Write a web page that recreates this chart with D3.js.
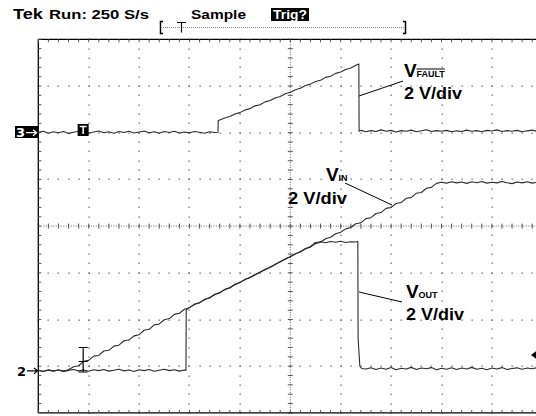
<!DOCTYPE html>
<html>
<head>
<meta charset="utf-8">
<script src="https://cdn.jsdelivr.net/npm/d3@7/dist/d3.min.js"></script>
<style>
  body { margin: 0; background: #fff; }
  svg text { font-family: "Liberation Sans", Arial, sans-serif; }
</style>
</head>
<body>
<script>
// time in s (1 s/div), volts (2 V/div)
let vfault = [
  [0.0,0.02],[0.1,0.06],[0.2,-0.02],[0.3,0.04],[0.4,0.00],[0.5,0.05],[0.6,-0.03],[0.7,0.02],[0.8,0.06],[0.9,0.01],
  [1.0,-0.02],[1.1,0.03],[1.2,0.07],[1.3,0.00],[1.4,0.04],[1.5,-0.02],[1.6,0.05],[1.7,0.01],[1.8,0.06],[1.9,-0.01],
  [2.0,0.03],[2.1,0.07],[2.2,0.00],[2.3,0.04],[2.4,-0.02],[2.5,0.05],[2.6,0.01],[2.7,0.06],[2.8,-0.01],[2.9,0.03],
  [3.0,0.00],[3.1,0.05],[3.2,0.02],[3.3,-0.02],[3.4,0.04],[3.5,0.01],[3.565,0.02],
  [3.57,0.52],[3.6,0.54],[3.7,0.63],[3.8,0.69],[3.9,0.80],[4.0,0.86],[4.1,0.97],[4.2,1.03],[4.3,1.15],[4.4,1.20],
  [4.5,1.32],[4.6,1.38],[4.7,1.49],[4.8,1.55],[4.9,1.67],[5.0,1.73],[5.1,1.84],[5.2,1.90],[5.3,2.02],[5.4,2.08],
  [5.5,2.19],[5.6,2.25],[5.7,2.37],[5.8,2.42],[5.9,2.54],[6.0,2.60],[6.1,2.71],[6.2,2.77],[6.3,2.89],[6.36,2.94],
  [6.365,0.06],[6.4,0.10],[6.5,0.04],[6.6,0.09],[6.7,0.05],[6.8,0.12],[6.9,0.06],[7.0,0.10],[7.1,0.03],[7.2,0.09],
  [7.3,0.06],[7.4,0.11],[7.5,0.04],[7.6,0.08],[7.7,0.13],[7.8,0.05],[7.9,0.09],[8.0,0.06],[8.1,0.10],[8.2,0.04],
  [8.3,0.08],[8.4,0.05],[8.5,0.11],[8.6,0.06],[8.7,0.09],[8.8,0.04],[8.9,0.10],[9.0,0.07],[9.1,0.12],[9.2,0.05],
  [9.3,0.09],[9.4,0.06],[9.5,0.10],[9.6,0.04],[9.7,0.08],[9.8,0.11],[9.9,0.05],[10.0,0.09]
];

let vin = [
  [0.0,0.02],[0.1,-0.03],[0.2,0.03],[0.3,-0.02],[0.4,0.04],[0.5,0.00],[0.57,0.02],
  [0.7,0.18],[0.8,0.22],[0.9,0.41],[1.0,0.45],[1.1,0.63],[1.2,0.66],[1.3,0.85],[1.4,0.88],[1.5,1.06],[1.6,1.10],
  [1.7,1.29],[1.8,1.32],[1.9,1.50],[2.0,1.55],[2.1,1.74],[2.2,1.78],[2.3,1.97],[2.4,2.01],[2.5,2.19],[2.6,2.24],
  [2.7,2.42],[2.8,2.47],[2.9,2.64],[3.0,2.70],[3.1,2.86],[3.2,2.91],[3.3,3.07],[3.4,3.12],[3.5,3.28],[3.6,3.34],
  [3.7,3.49],[3.8,3.55],[3.9,3.71],[4.0,3.77],[4.1,3.92],[4.2,3.99],[4.3,4.13],[4.4,4.21],[4.5,4.35],[4.6,4.43],
  [4.7,4.57],[4.8,4.66],[4.9,4.80],[5.0,4.88],[5.1,5.02],[5.2,5.09],[5.3,5.24],[5.4,5.30],[5.5,5.45],[5.6,5.51],
  [5.7,5.66],[5.8,5.72],[5.9,5.87],[6.0,5.94],[6.1,6.08],[6.2,6.14],[6.3,6.30],[6.4,6.34],[6.5,6.52],[6.6,6.56],
  [6.7,6.74],[6.8,6.78],[6.9,6.96],[7.0,7.00],[7.1,7.17],[7.2,7.21],[7.3,7.39],[7.4,7.42],[7.5,7.61],[7.6,7.64],
  [7.7,7.82],[7.8,7.86],[7.9,8.03],[8.0,8.08],[8.1,8.04],[8.2,8.10],[8.3,8.05],[8.4,8.09],[8.5,8.03],[8.6,8.10],
  [8.7,8.06],[8.8,8.11],[8.9,8.04],[9.0,8.08],[9.1,8.05],[9.2,8.11],[9.3,8.06],[9.4,8.02],[9.5,8.09],[9.6,8.05],
  [9.7,8.10],[9.8,8.04],[9.9,8.08],[10.0,8.06]
];

let vout = [
  [0.0,0.03],[0.1,-0.02],[0.2,0.05],[0.3,0.00],[0.4,0.04],[0.5,-0.03],[0.6,0.02],[0.7,0.06],[0.8,0.00],[0.9,0.04],
  [1.0,-0.02],[1.1,0.05],[1.2,0.01],[1.3,0.06],[1.4,-0.01],[1.5,0.03],[1.6,0.07],[1.7,0.00],[1.8,0.04],[1.9,-0.03],
  [2.0,0.05],[2.1,0.01],[2.2,0.06],[2.3,-0.02],[2.4,0.03],[2.5,0.07],[2.6,0.01],[2.7,0.05],[2.8,-0.01],[2.9,0.04],
  [2.93,0.02],[2.935,2.62],[3.0,2.72],[3.1,2.84],[3.2,2.93],[3.3,3.05],[3.4,3.14],[3.5,3.26],[3.6,3.36],[3.7,3.47],
  [3.8,3.57],[3.9,3.69],[4.0,3.79],[4.1,3.90],[4.2,4.01],[4.3,4.11],[4.4,4.23],[4.5,4.33],[4.6,4.45],[4.7,4.55],
  [4.8,4.68],[4.9,4.78],[5.0,4.90],[5.1,5.00],[5.2,5.11],[5.3,5.22],[5.4,5.33],[5.5,5.50],[5.6,5.53],[5.7,5.49],
  [5.8,5.54],[5.9,5.51],[6.0,5.55],[6.1,5.50],[6.2,5.53],[6.3,5.52],[6.34,5.54],
  [6.345,1.40],[6.38,0.20],[6.42,0.10],[6.5,0.08],[6.6,0.13],[6.7,0.06],[6.8,0.12],[6.9,0.07],[7.0,0.14],[7.1,0.05],
  [7.2,0.11],[7.3,0.08],[7.4,0.15],[7.5,0.06],[7.6,0.12],[7.7,0.09],[7.8,0.14],[7.9,0.05],[8.0,0.11],[8.1,0.07],
  [8.2,0.13],[8.3,0.06],[8.4,0.12],[8.5,0.08],[8.6,0.15],[8.7,0.07],[8.8,0.11],[8.9,0.05],[9.0,0.12],[9.1,0.08],
  [9.2,0.14],[9.3,0.06],[9.4,0.10],[9.5,0.13],[9.6,0.07],[9.7,0.12],[9.8,0.09],[9.9,0.14],[10.0,0.08]
];

// ground levels in divisions from centre
let grounds = { ch3: 2, ch2: -3.1 };
let trigTime = 0.89;

let W = 536, H = 416;
let x0 = 38.3, divX = 50.4, y0 = 39.3, divY = 46.7;

let svg = d3.select("body").append("svg")
  .attr("width", W).attr("height", H);

let gx = d3.scaleLinear().domain([0, 10]).range([x0, x0 + 10 * divX]);
let gy = d3.scaleLinear().domain([-4, 4]).range([y0 + 8 * divY, y0]);

function chScale(g) {
  // 2 V/div
  return d3.scaleLinear().domain([(-4 - g) * 2, (4 - g) * 2]).range([gy(-4), gy(4)]);
}
let y3 = chScale(grounds.ch3), y2 = chScale(grounds.ch2);

let minorX = d3.range(0, 51).map(i => i / 5);
let minorY = d3.range(0, 41).map(i => i / 5 - 4);

//Graticule dots
let grat = svg.append("g");
let dots = [];
[1, 2, 3, 4, 6, 7, 8, 9].forEach(i => minorY.forEach(v => dots.push([gx(i), gy(v)])));
[-3, -2, -1, 1, 2, 3].forEach(j => minorX.forEach(t => dots.push([gx(t), gy(j)])));
grat.selectAll("rect.dot").data(dots).enter().append("rect")
  .attr("class", "dot")
  .attr("x", d => Math.round(d[0]) - 0.5).attr("y", d => Math.round(d[1]) - 0.5)
  .attr("width", 1.3).attr("height", 1.3)
  .attr("fill", "#666");

// centre lines
grat.append("line")
  .attr("x1", gx(0)).attr("x2", gx(10)).attr("y1", gy(0)).attr("y2", gy(0))
  .attr("stroke", "#666").attr("stroke-dasharray", "1,1.5");
grat.append("line")
  .attr("x1", gx(5)).attr("x2", gx(5)).attr("y1", gy(-4)).attr("y2", gy(4))
  .attr("stroke", "#666").attr("stroke-dasharray", "1,1.5");
grat.selectAll("line.tx").data(minorX).enter().append("line")
  .attr("x1", d => gx(d)).attr("x2", d => gx(d))
  .attr("y1", gy(0) - 2.5).attr("y2", gy(0) + 2.5)
  .attr("stroke", "#555");
grat.selectAll("line.ty").data(minorY).enter().append("line")
  .attr("y1", d => gy(d)).attr("y2", d => gy(d))
  .attr("x1", gx(5) - 2.5).attr("x2", gx(5) + 2.5)
  .attr("stroke", "#555");

// edges + edge ticks
grat.append("line").attr("x1", gx(0)).attr("x2", gx(10)).attr("y1", gy(4)).attr("y2", gy(4))
  .attr("stroke", "#000").attr("stroke-width", 1.3);
grat.append("line").attr("x1", gx(0)).attr("x2", gx(10)).attr("y1", gy(-4)).attr("y2", gy(-4))
  .attr("stroke", "#000").attr("stroke-width", 1.3);
grat.append("line").attr("x1", gx(0)).attr("x2", gx(0)).attr("y1", gy(4)).attr("y2", gy(-4))
  .attr("stroke", "#000").attr("stroke-width", 1.3);
grat.selectAll("line.et").data(minorX).enter().append("line")
  .attr("x1", d => gx(d)).attr("x2", d => gx(d))
  .attr("y1", gy(4)).attr("y2", gy(4) + 3).attr("stroke", "#555");
grat.selectAll("line.eb").data(minorX).enter().append("line")
  .attr("x1", d => gx(d)).attr("x2", d => gx(d))
  .attr("y1", gy(-4)).attr("y2", gy(-4) - 3).attr("stroke", "#555");
grat.selectAll("line.el").data(minorY).enter().append("line")
  .attr("y1", d => gy(d)).attr("y2", d => gy(d))
  .attr("x1", gx(0)).attr("x2", gx(0) + 3).attr("stroke", "#555");

//Traces
let traceColor = "#2b2b2b";
function drawTrace(data, ys) {
  let line = d3.line().x(d => gx(d[0])).y(d => ys(d[1]));
  svg.append("path").attr("d", line(data))
    .attr("fill", "none").attr("stroke", traceColor).attr("stroke-width", 1.1)
    .attr("stroke-linejoin", "round");
}
drawTrace(vfault, y3);
drawTrace(vin, y2);
drawTrace(vout, y2);

// header
let hdr = svg.append("g").style("font-family", "'DejaVu Sans', sans-serif").style("font-weight", "bold");
hdr.append("text").attr("x", 13).attr("y", 19).attr("font-size", 14)
  .attr("textLength", 30).attr("lengthAdjust", "spacingAndGlyphs").text("Tek");
hdr.append("text").attr("x", 49).attr("y", 19).attr("font-size", 13)
  .attr("textLength", 100).attr("lengthAdjust", "spacingAndGlyphs").text("Run: 250 S/s");
hdr.append("text").attr("x", 191).attr("y", 19).attr("font-size", 13)
  .attr("textLength", 55).attr("lengthAdjust", "spacingAndGlyphs").text("Sample");
hdr.append("rect").attr("x", 271).attr("y", 8).attr("width", 38).attr("height", 13).attr("fill", "#000");
hdr.append("text").attr("x", 273).attr("y", 19).attr("font-size", 13).attr("fill", "#fff")
  .attr("textLength", 34).attr("lengthAdjust", "spacingAndGlyphs").text("Trig?");

// record bar
let rb = svg.append("g").attr("stroke", "#000");
rb.append("line").attr("x1", 163).attr("x2", 404).attr("y1", 27.5).attr("y2", 27.5)
  .attr("stroke", "#888").attr("stroke-dasharray", "1,1");
rb.append("path").attr("d", "M163,21.5H160.5V33.5H163").attr("fill", "none").attr("stroke-width", 1.5);
rb.append("path").attr("d", "M403,21.5H405.5V33.5H403").attr("fill", "none").attr("stroke-width", 1.5);
rb.append("path").attr("d", "M177,22.5H186M181.5,22.5V32.5").attr("fill", "none").attr("stroke-width", 1.2);

// channel markers
svg.append("rect").attr("x", 15).attr("y", 126).attr("width", 23).attr("height", 12).attr("fill", "#000");
svg.append("text").attr("x", 16).attr("y", 137).attr("font-size", 13).attr("font-weight", "bold")
  .attr("fill", "#fff").style("font-family", "'DejaVu Sans', sans-serif").text("3");
svg.append("path").attr("d", `M26,${y3(0)}H36M33,${y3(0) - 3}L36.5,${y3(0)}L33,${y3(0) + 3}`)
  .attr("stroke", "#fff").attr("stroke-width", 1.3).attr("fill", "none");
svg.append("text").attr("x", 17).attr("y", y2(0) + 5).attr("font-size", 13).attr("font-weight", "bold")
  .style("font-family", "'DejaVu Sans', sans-serif").text("2");
svg.append("path").attr("d", `M27,${y2(0)}H37M34,${y2(0) - 3}L37.5,${y2(0)}L34,${y2(0) + 3}`)
  .attr("stroke", "#000").attr("stroke-width", 1.3).attr("fill", "none");

// trigger markers
let tx = gx(trigTime);
svg.append("rect").attr("x", tx - 5.5).attr("y", 124).attr("width", 11).attr("height", 12).attr("fill", "#000");
svg.append("path").attr("d", `M${tx - 3.5},126.5H${tx + 3.5}M${tx},126.5V134`)
  .attr("stroke", "#fff").attr("stroke-width", 1.6);
svg.append("path").attr("d", `M${tx - 4.5},347.5H${tx + 4.5}M${tx},347.5V372M${tx - 4.5},361.5H${tx + 4.5}M${tx - 4.5},372H${tx + 4.5}`)
  .attr("stroke", "#000").attr("stroke-width", 1.2).attr("fill", "none");

// trigger level arrow at right edge
svg.append("path").attr("d", "M531,355L537,350.5V359.5Z").attr("fill", "#000");

// labels
function label(x, y, sub, over, lx1, ly1, lx2, ly2) {
  let g = svg.append("g").style("font-weight", "bold");
  g.append("text").attr("x", x).attr("y", y).attr("font-size", 19).text("V");
  let s = g.append("text").attr("x", x + 12.5).attr("y", y).attr("font-size", 9).text(sub);
  if (over) {
    let w = s.node().getComputedTextLength();
    g.append("line").attr("x1", x + 12.5).attr("x2", x + 12.5 + w)
      .attr("y1", y - 8).attr("y2", y - 8).attr("stroke", "#000").attr("stroke-width", 1);
  }
  g.append("text").attr("x", x).attr("y", y + 22).attr("font-size", 17)
    .attr("textLength", 58).attr("lengthAdjust", "spacingAndGlyphs").text("2 V/div");
  svg.append("line").attr("x1", lx1).attr("y1", ly1).attr("x2", lx2).attr("y2", ly2)
    .attr("stroke", "#000").attr("stroke-width", 1);
}
label(404, 77, "FAULT", true, 359, 96, 403, 81);
label(406, 298, "OUT", false, 359, 292, 402, 302);
// V_IN: value label sits left of its subscript
let gi = svg.append("g").style("font-weight", "bold");
gi.append("text").attr("x", 326).attr("y", 181).attr("font-size", 19).text("V");
gi.append("text").attr("x", 338.5).attr("y", 181).attr("font-size", 9).text("IN");
gi.append("text").attr("x", 288).attr("y", 204).attr("font-size", 17)
  .attr("textLength", 59).attr("lengthAdjust", "spacingAndGlyphs").text("2 V/div");
svg.append("line").attr("x1", 345).attr("y1", 183).attr("x2", 392).attr("y2", 205)
  .attr("stroke", "#000").attr("stroke-width", 1);
</script>
</body>
</html>
